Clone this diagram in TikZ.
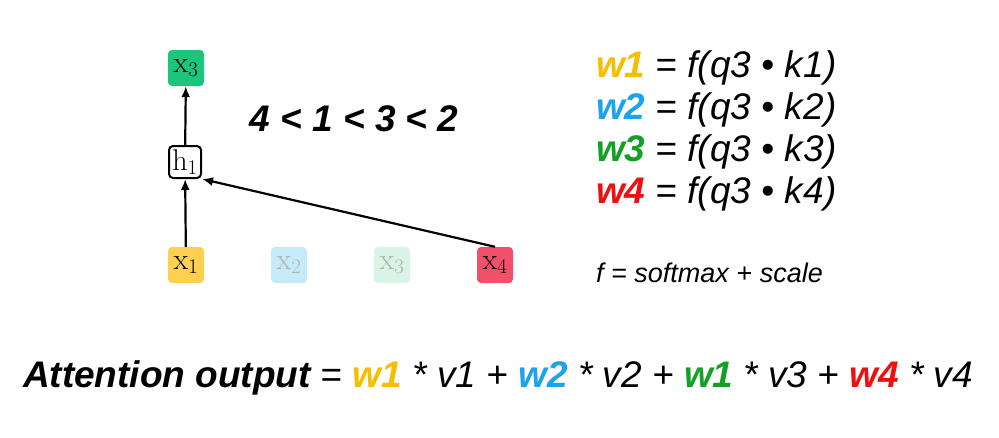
\documentclass[tikz,border=0pt]{standalone}
\usepackage{fontspec}
\setsansfont{Liberation Sans}
\usetikzlibrary{arrows.meta}
\definecolor{wyellow}{HTML}{F7BE00}
\definecolor{wblue}{HTML}{1CA3EC}
\definecolor{wgreen}{HTML}{14A024}
\definecolor{wred}{HTML}{EE1010}
\definecolor{byellow}{HTML}{FFD04E}
\definecolor{bgreen}{HTML}{1CC47C}
\definecolor{bred}{HTML}{F24F6B}
\definecolor{bblue}{HTML}{C6EBF8}
\definecolor{blgreen}{HTML}{D9F4E7}
\tikzset{
  tok/.style={rounded corners=4pt,minimum size=36pt,inner sep=0pt,font=\fontsize{30}{30}\selectfont},
  eq/.style={anchor=west,inner sep=0pt,font=\sffamily\itshape\fontsize{37}{37}\selectfont},
  arr/.style={-{Latex[length=11pt,width=9pt]},line width=2.2pt}
}
\begin{document}
\begin{tikzpicture}[x=1pt,y=-1pt]
  \useasboundingbox[fill=white] (0,0) rectangle (999,437);
  % tokens
  \node[tok,fill=bgreen] (top) at (186,68) {$\mathrm{x}_3$};
  \node[tok,draw,line width=2pt,minimum size=32pt] (h1) at (185,162) {$\mathrm{h}_1$};
  \node[tok,fill=byellow] (x1) at (186,265) {$\mathrm{x}_1$};
  \node[tok,fill=bblue,text=black!30] (x2) at (289,265) {$\mathrm{x}_2$};
  \node[tok,fill=blgreen,text=black!30] (x3) at (392,265) {$\mathrm{x}_3$};
  \node[tok,fill=bred] (x4) at (495,265) {$\mathrm{x}_4$};
  \draw[arr] (x1) -- (h1);
  \draw[arr] (h1) -- (top);
  \draw[arr] (x4.north) -- (h1.south east);
  % ranking
  \node[font=\sffamily\bfseries\itshape\fontsize{37}{37}\selectfont] (rank) at (354,119) {4 < 1 < 3 < 2};
  % weights
  \node[eq] (w1) at (596,68) {\textbf{\color{wyellow}w1} = f(q3 • k1)};
  \node[eq] (w2) at (596,110) {\textbf{\color{wblue}w2} = f(q3 • k2)};
  \node[eq] (w3) at (596,152) {\textbf{\color{wgreen}w3} = f(q3 • k3)};
  \node[eq] (w4) at (596,194) {\textbf{\color{wred}w4} = f(q3 • k4)};
  \node[eq,font=\sffamily\itshape\fontsize{27}{27}\selectfont] (fdef) at (596,273) {f = softmax + scale};
  % output
  \node[anchor=center,inner sep=0pt,font=\sffamily\itshape\fontsize{37}{37}\selectfont] (out) at (498,378)
    {\textbf{Attention output} = \textbf{\color{wyellow}w1} * v1 + \textbf{\color{wblue}w2} * v2 + \textbf{\color{wgreen}w1} * v3 + \textbf{\color{wred}w4} * v4};
\end{tikzpicture}
\end{document}
